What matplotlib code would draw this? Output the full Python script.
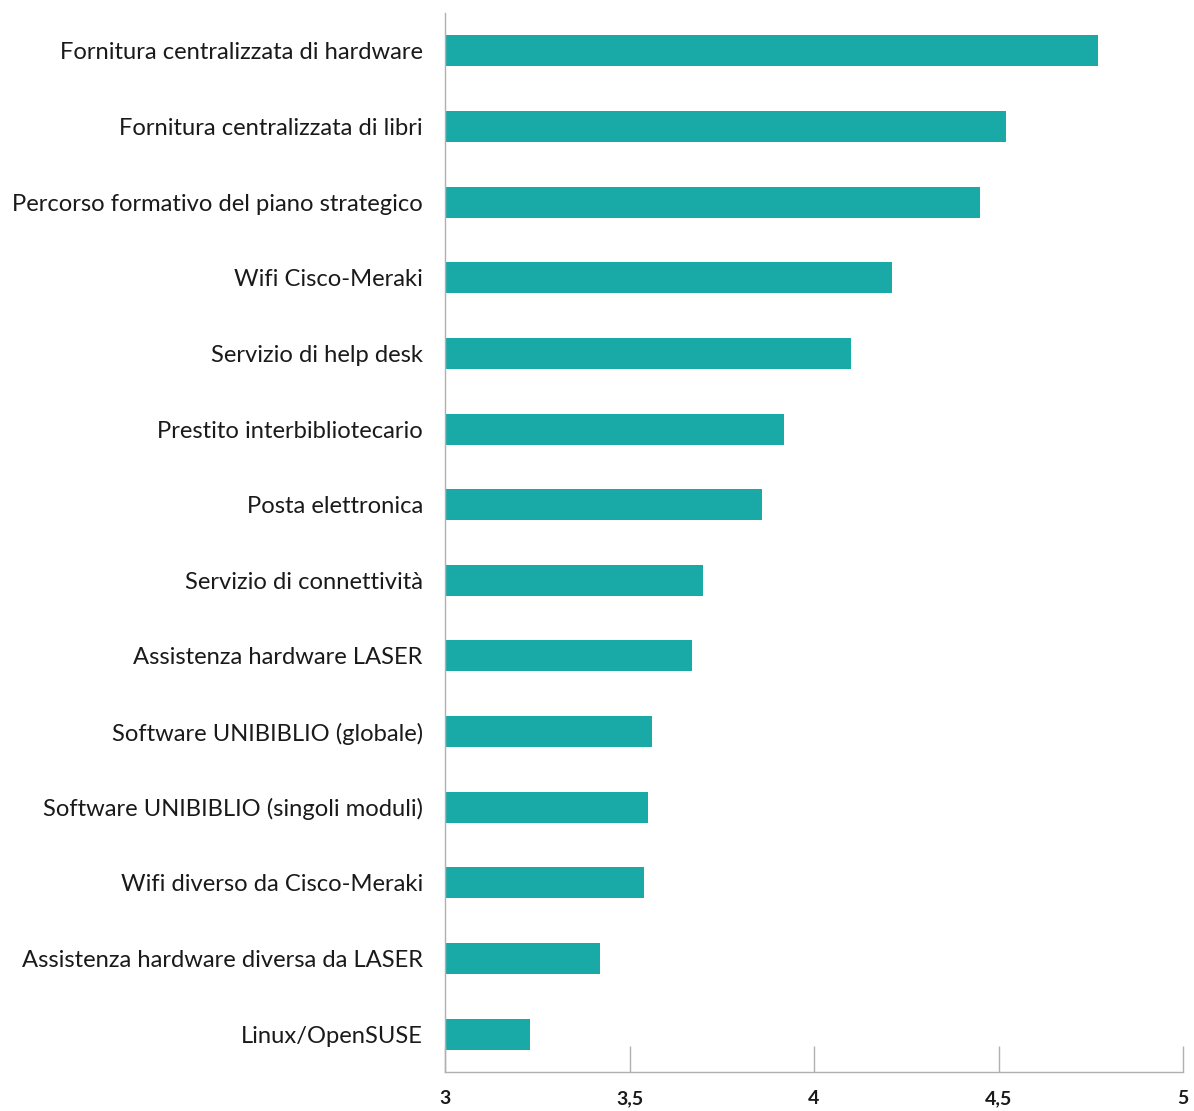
import matplotlib
matplotlib.use("Agg")
import matplotlib.pyplot as plt

categories = [
    "Fornitura centralizzata di hardware",
    "Fornitura centralizzata di libri",
    "Percorso formativo del piano strategico",
    "Wifi Cisco-Meraki",
    "Servizio di help desk",
    "Prestito interbibliotecario",
    "Posta elettronica",
    "Servizio di connettività",
    "Assistenza hardware LASER",
    "Software UNIBIBLIO (globale)",
    "Software UNIBIBLIO (singoli moduli)",
    "Wifi diverso da Cisco-Meraki",
    "Assistenza hardware diversa da LASER",
    "Linux/OpenSUSE",
]
values = [4.77, 4.52, 4.45, 4.21, 4.10, 3.92, 3.86, 3.70, 3.67, 3.56, 3.55, 3.54, 3.42, 3.23]
xticks = [3, 3.5, 4, 4.5, 5]
xtick_labels = ["3", "3,5", "4", "4,5", "5"]

plt.rcParams['font.family'] = ['Lato', 'DejaVu Sans']

fig = plt.figure(figsize=(11.94, 11.11), dpi=100)
ax = fig.add_axes([0.3727, 0.0351, 0.6181, 0.9532])

pos = list(range(len(categories)))
ax.barh(pos, [v - 3 for v in values], left=3, height=0.41, color='#19aaa8')

ax.set_xlim(3, 5)
ax.set_ylim(len(categories) - 0.5, -0.5)
ax.set_yticks(pos)
ax.set_yticklabels(categories, fontsize=17.1, color='#1a1a1a')
ax.set_xticks(xticks)
ax.set_xticklabels(xtick_labels, fontsize=14, fontweight='bold', color='#1a1a1a')

ax.tick_params(axis='y', length=0, pad=16)
ax.tick_params(axis='x', direction='in', length=19, width=1, color='#b0b0b0', pad=13)

for s in ['top', 'right']:
    ax.spines[s].set_visible(False)
for s in ['left', 'bottom']:
    ax.spines[s].set_color('#b0b0b0')
    ax.spines[s].set_linewidth(1)

fig.savefig('out.png', dpi=100)
